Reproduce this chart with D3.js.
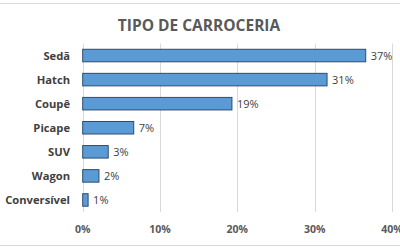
<!DOCTYPE html>
<html>
<head>
<meta charset="utf-8">
<script src="https://cdn.jsdelivr.net/npm/d3@7"></script>
<style>
  body { margin: 0; background: #fff; }
  svg { display: block; }
</style>
</head>
<body>
<div id="vis"></div>
<script>
// chart data
var categories = ["Sedã", "Hatch", "Coupê", "Picape", "SUV", "Wagon", "Conversível"]
var shares = [36.6, 31.6, 19.3, 6.6, 3.3, 2.1, 0.7]
var valueLabels = ["37%", "31%", "19%", "7%", "3%", "2%", "1%"]
var xTicks = [0, 10, 20, 30, 40]

var width = 400
var height = 250
var font = "'Open Sans', sans-serif"

var svg = d3.select('#vis').append('svg')
  .attr('width', width)
  .attr('height', height)

// frame lines top and bottom
svg.append('line')
  .attr('x1', 0).attr('x2', width).attr('y1', 3.5).attr('y2', 3.5)
  .attr('stroke', '#d9d9d9')
svg.append('line')
  .attr('x1', 0).attr('x2', width).attr('y1', 245.5).attr('y2', 245.5)
  .attr('stroke', '#d9d9d9')

// title
svg.append('text')
  .attr('x', 199)
  .attr('y', 31)
  .attr('text-anchor', 'middle')
  .style('font-family', font)
  .style('font-size', '15.5px')
  .style('font-weight', 'bold')
  .style('fill', '#595959')
  .text('TIPO DE CARROCERIA')

var x = d3.scaleLinear().domain([0, 40]).range([82.7, 392])
var y = d3.scaleBand().domain(categories).range([43.5, 212]).paddingInner(0.48).paddingOuter(0.24)

// gridlines
svg.selectAll('line.grid')
  .data(xTicks)
  .enter()
  .append('line')
  .attr('class', 'grid')
  .attr('x1', d => Math.round(x(d)) + 0.5)
  .attr('x2', d => Math.round(x(d)) + 0.5)
  .attr('y1', 43.5)
  .attr('y2', 212)
  .attr('stroke', '#d9d9d9')
  .attr('stroke-width', 1)

// x tick labels
svg.selectAll('text.xtick')
  .data(xTicks)
  .enter()
  .append('text')
  .attr('class', 'xtick')
  .attr('x', d => x(d))
  .attr('y', 233)
  .attr('text-anchor', 'middle')
  .style('font-family', font)
  .style('font-size', '10.5px')
  .style('font-weight', 'bold')
  .style('fill', '#595959')
  .text(d => d + '%')

// category labels
svg.selectAll('text.cat')
  .data(categories)
  .enter()
  .append('text')
  .attr('class', 'cat')
  .attr('x', 70)
  .attr('y', d => y(d) + y.bandwidth() / 2 + 4)
  .attr('text-anchor', 'end')
  .style('font-family', font)
  .style('font-size', '11.2px')
  .style('font-weight', 'bold')
  .style('fill', '#404040')
  .text(d => d)

// bars
svg.selectAll('rect.bar')
  .data(shares)
  .enter()
  .append('rect')
  .attr('class', 'bar')
  .attr('x', x(0))
  .attr('y', (d, i) => y(categories[i]))
  .attr('width', d => x(d) - x(0))
  .attr('height', y.bandwidth())
  .attr('fill', '#5b9bd5')
  .attr('stroke', '#2f4b6e')
  .attr('stroke-width', 1)

// value labels
svg.selectAll('text.val')
  .data(shares)
  .enter()
  .append('text')
  .attr('class', 'val')
  .attr('x', d => x(d) + 5)
  .attr('y', (d, i) => y(categories[i]) + y.bandwidth() / 2 + 4)
  .style('font-family', font)
  .style('font-size', '11px')
  .style('fill', '#404040')
  .text((d, i) => valueLabels[i])
</script>
</body>
</html>
